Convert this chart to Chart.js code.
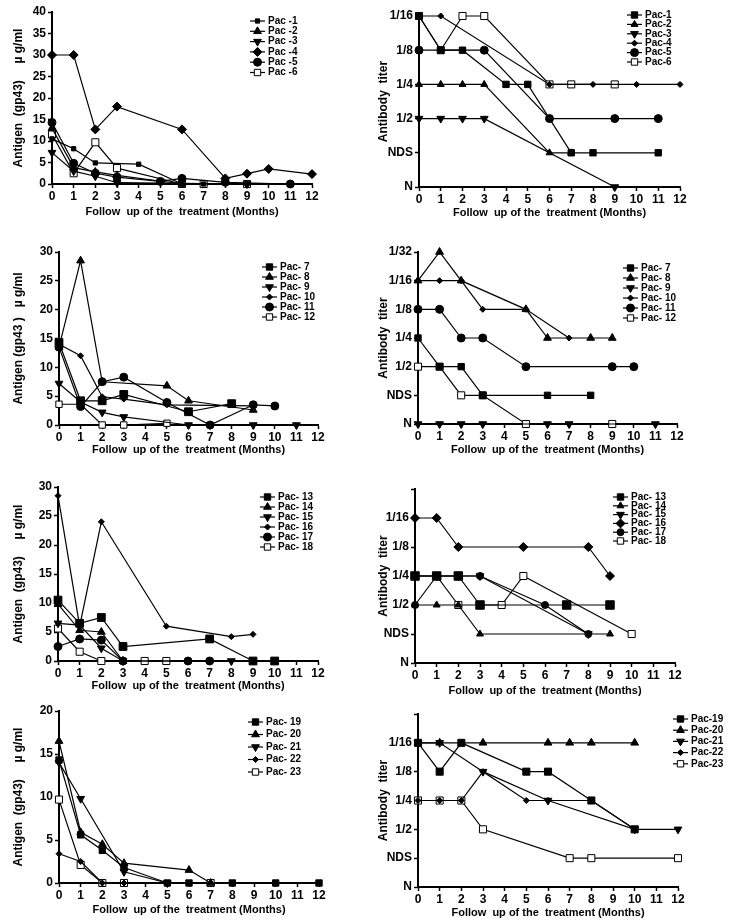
<!DOCTYPE html>
<html>
<head>
<meta charset="utf-8">
<script src="https://cdn.jsdelivr.net/npm/chart.js@4"></script>
<style>
  body { margin: 0; background: #fff; }
  #page { position: relative; width: 730px; height: 921px; overflow: hidden; }
  #page canvas { position: absolute; }
</style>
</head>
<body>
<div id="page"></div>
<script>
const _ = null;
const months = [0, 1, 2, 3, 4, 5, 6, 7, 8, 9, 10, 11, 12];
const titerLabels = ['N', 'NDS', '1/2', '1/4', '1/8', '1/16', '1/32'];

// --- Panel A: antigen, patients 1-6 (value per month, null = not measured)
const labelsA = ['Pac -1', 'Pac -2', 'Pac -3', 'Pac -4', 'Pac -5', 'Pac -6'];
const pac1Ag = [10.5, 8.2, 4.9, _, 4.6, _, 0, 0, _, 0, _, _, _];
const pac2Ag = [13, 3.8, 2.8, 2, _, _, 0, _, _, _, _, _, _];
const pac3Ag = [7.3, 3, 1.8, 0.3, _, _, _, _, _, 0, _, _, _];
const pac4Ag = [30, 30, 12.7, 18, _, _, 12.7, _, 1.3, 2.4, 3.5, _, 2.3];
const pac5Ag = [14.3, 4.8, 2.5, 1.6, _, 0.6, 1.3, _, 0.4, _, _, 0, _];
const pac6Ag = [11.5, 2.5, 9.7, 3.7, _, _, 0, 0, _, 0, _, _, _];

// --- Panel B: antibody titer, patients 1-6
const labelsB = ['Pac-1', 'Pac-2', 'Pac-3', 'Pac-4', 'Pac-5', 'Pac-6'];
const pac1Ti = ['1/16', '1/8', '1/8', _, '1/4', '1/4', _, 'NDS', 'NDS', _, _, 'NDS', _];
const pac2Ti = ['1/4', '1/4', '1/4', '1/4', _, _, 'NDS', 'NDS', _, _, _, _, _];
const pac3Ti = ['1/2', '1/2', '1/2', '1/2', _, _, _, _, _, 'N', _, _, _];
const pac4Ti = ['1/16', '1/16', _, _, _, _, '1/4', _, '1/4', _, '1/4', _, '1/4'];
const pac5Ti = ['1/8', _, _, '1/8', _, _, '1/2', _, _, '1/2', _, '1/2', _];
const pac6Ti = ['1/16', '1/8', '1/16', '1/16', _, _, '1/4', '1/4', _, '1/4', _, _, _];

// --- Panel C: antigen, patients 7-12
const labelsC = ['Pac- 7', 'Pac- 8', 'Pac- 9', 'Pac- 10', 'Pac- 11', 'Pac- 12'];
const pac7Ag = [14.3, 4.2, 4.2, 5.3, _, _, 2.3, _, 3.7, _, _, _, _];
const pac8Ag = [13.5, 28.5, 7.5, _, _, 6.8, 4.2, _, _, 2.6, _, _, _];
const pac9Ag = [7.2, 4, 2.2, 1.4, _, _, 0, 0, _, 0, _, 0, _];
const pac10Ag = [14, 12, 4.9, 4.5, _, 3.5, _, _, _, 3.3, _, _, _];
const pac11Ag = [13.5, 3.2, 7.5, 8.3, _, 3.9, _, 0, _, 3.5, 3.3, _, _];
const pac12Ag = [3.6, 3.6, 0, 0, _, 0.3, _, _, _, _, _, _, _];

// --- Panel D: antibody titer, patients 7-12
const labelsD = ['Pac- 7', 'Pac- 8', 'Pac- 9', 'Pac- 10', 'Pac- 11', 'Pac- 12'];
const pac7Ti = ['1/4', '1/2', '1/2', 'NDS', _, _, 'NDS', _, 'NDS', _, _, _, _];
const pac8Ti = ['1/16', '1/32', '1/16', _, _, '1/8', '1/4', _, '1/4', '1/4', _, _, _];
const pac9Ti = ['N', 'N', 'N', 'N', _, _, 'N', 'N', _, _, _, 'N', _];
const pac10Ti = ['1/16', '1/16', '1/16', '1/8', _, '1/8', _, '1/4', _, _, _, _, _];
const pac11Ti = ['1/8', '1/8', '1/4', '1/4', _, '1/2', _, _, _, '1/2', '1/2', _, _];
const pac12Ti = ['1/2', '1/2', 'NDS', 'NDS', _, 'N', _, _, _, 'N', _, _, _];

// --- Panel E: antigen, patients 13-18
const labelsE = ['Pac- 13', 'Pac- 14', 'Pac- 15', 'Pac- 16', 'Pac- 17', 'Pac- 18'];
const pac13Ag = [10.5, 6.5, 7.5, 2.5, _, _, _, 3.8, _, 0, 0, _, _];
const pac14Ag = [9.8, 5.3, 5, 0, _, _, _, _, _, _, _, _, _];
const pac15Ag = [6.5, 6.2, 2.2, 0, _, _, _, _, 0, _, _, _, _];
const pac16Ag = [28.5, 6, 24, _, _, 6, _, _, 4.2, 4.6, _, _, _];
const pac17Ag = [2.5, 3.8, 3.6, 0, _, _, 0, 0, _, _, _, _, _];
const pac18Ag = [5.6, 1.6, 0, _, 0, 0, _, _, _, _, _, _, _];

// --- Panel F: antibody titer, patients 13-18
const labelsF = ['Pac- 13', 'Pac- 14', 'Pac- 15', 'Pac- 16', 'Pac- 17', 'Pac- 18'];
const pac13Ti = ['1/4', '1/4', '1/4', '1/2', _, _, _, '1/2', _, '1/2', _, _, _];
const pac14Ti = ['1/2', '1/2', '1/2', 'NDS', _, _, _, _, _, 'NDS', _, _, _];
const pac15Ti = ['1/4', '1/4', '1/4', '1/4', _, _, _, _, 'NDS', _, _, _, _];
const pac16Ti = ['1/16', '1/16', '1/8', _, _, '1/8', _, _, '1/8', '1/4', _, _, _];
const pac17Ti = ['1/2', '1/4', '1/4', '1/4', _, _, '1/2', _, 'NDS', _, _, _, _];
const pac18Ti = ['1/4', '1/4', '1/2', _, '1/2', '1/4', _, _, _, _, 'NDS', _, _];

// --- Panel G: antigen, patients 19-23
const labelsG = ['Pac- 19', 'Pac- 20', 'Pac- 21', 'Pac- 22', 'Pac- 23'];
const pac19Ag = [14.3, 5.6, 3.8, 1.8, _, 0, 0, _, 0, _, 0, _, 0];
const pac20Ag = [16.5, 5.9, 4.5, 2.3, _, _, 1.5, 0, _, _, _, _, _];
const pac21Ag = [14, 9.8, _, 1.3, _, 0, _, _, _, _, _, _, _];
const pac22Ag = [3.4, 2.5, 0, 0, _, 0, _, _, _, _, _, _, _];
const pac23Ag = [9.7, 2.1, 0, 0, _, _, _, 0, _, _, _, _, _];

// --- Panel H: antibody titer, patients 19-23
const labelsH = ['Pac-19', 'Pac-20', 'Pac-21', 'Pac-22', 'Pac-23'];
const pac19Ti = ['1/16', '1/8', '1/16', _, _, '1/8', '1/8', _, '1/4', _, '1/2', _, _];
const pac20Ti = ['1/16', '1/16', _, '1/16', _, _, '1/16', '1/16', '1/16', _, '1/16', _, _];
const pac21Ti = ['1/16', '1/16', _, '1/8', _, _, '1/4', _, _, _, '1/2', _, '1/2'];
const pac22Ti = ['1/4', '1/4', '1/4', '1/8', _, '1/4', '1/4', _, '1/4', _, '1/2', _, _];
const pac23Ti = ['1/4', '1/4', '1/4', '1/2', _, _, _, 'NDS', 'NDS', _, _, _, 'NDS'];

// marker shapes
const SQUARE = { pointStyle: 'rect', rotation: 0, fill: '#000' };
const TRI = { pointStyle: 'triangle', rotation: 0, fill: '#000' };
const TRI_DOWN = { pointStyle: 'triangle', rotation: 180, fill: '#000' };
const DIAMOND = { pointStyle: 'rectRot', rotation: 0, fill: '#000' };
const CIRCLE = { pointStyle: 'circle', rotation: 0, fill: '#000' };
const OPEN_SQUARE = { pointStyle: 'rect', rotation: 0, fill: '#fff' };
const sixShapes = [SQUARE, TRI, TRI_DOWN, DIAMOND, CIRCLE, OPEN_SQUARE];
const fiveShapes = [SQUARE, TRI, TRI_DOWN, DIAMOND, OPEN_SQUARE];

Chart.defaults.font.family = '"Liberation Sans", Arial, sans-serif';
Chart.defaults.font.weight = 'bold';
Chart.defaults.color = '#000';

// legend drawn as "-marker-  label", like the original figure
const lineLegend = {
    id: 'lineLegend',
    afterDraw(chart, args, opts) {
        const ctx = chart.ctx;
        ctx.save();
        chart.data.datasets.forEach((ds, i) => {
            const y = opts.y + i * opts.dy;
            ctx.strokeStyle = '#000';
            ctx.lineWidth = 1.2;
            ctx.beginPath();
            ctx.moveTo(opts.x, y);
            ctx.lineTo(opts.x + 15, y);
            ctx.stroke();
            ctx.fillStyle = ds.pointBackgroundColor;
            ctx.lineWidth = 1;
            Chart.helpers.drawPoint(ctx, {
                pointStyle: ds.pointStyle,
                rotation: ds.pointRotation,
                radius: Math.min(ds.pointRadius, 4.5),
                borderWidth: 1
            }, opts.x + 7.5, y);
            ctx.fillStyle = '#000';
            ctx.font = 'bold 10px "Liberation Sans", Arial, sans-serif';
            ctx.textBaseline = 'middle';
            ctx.fillText(ds.label, opts.x + 18, y);
        });
        ctx.restore();
    }
};

function toPoints(values, isTiter) {
    const pts = [];
    months.forEach((m, i) => {
        const v = values[i];
        if (v === null) return;
        pts.push({ x: m, y: isTiter ? titerLabels.indexOf(v) : v });
    });
    return pts;
}

// p: page-coordinate layout of one panel (plot area edges, title line, legend)
function makePanel(p) {
    const x0 = p.col === 0 ? 0 : 365;
    const y0 = Math.max(0, p.top - 32);
    const h = p.titleY + 12 - y0;
    const w = 365;

    const canvas = document.createElement('canvas');
    canvas.style.left = x0 + 'px';
    canvas.style.top = y0 + 'px';
    canvas.style.width = w + 'px';
    canvas.style.height = h + 'px';
    canvas.width = w;
    canvas.height = h;
    document.getElementById('page').appendChild(canvas);

    const shapes = p.series.length === 6 ? sixShapes : fiveShapes;
    const datasets = p.series.map((values, i) => {
        const mk = shapes[i];
        return {
            label: p.labels[i],
            data: toPoints(values, p.titer),
            borderColor: '#000',
            borderWidth: 1.2,
            pointStyle: mk.pointStyle,
            pointRotation: mk.rotation,
            pointRadius: p.radii[i],
            pointBackgroundColor: mk.fill,
            pointBorderColor: '#000',
            pointBorderWidth: 1,
            tension: 0,
            clip: false
        };
    });

    const titleFont = { size: 12, weight: 'bold' };
    const tickFont = { size: 12, weight: 'bold' };
    const yScale = p.titer ? {
        min: 0,
        max: p.yMax,
        ticks: {
            stepSize: 1,
            padding: 2,
            font: tickFont,
            callback: v => (v <= p.yLabelMax ? titerLabels[v] : '')
        },
        title: { display: true, text: 'Antibody  titer', font: titleFont, padding: { top: 11, bottom: 0 } }
    } : {
        min: 0,
        max: p.yMax,
        ticks: { stepSize: 5, padding: 2, font: tickFont },
        title: { display: true, text: p.yTitle, font: titleFont, padding: { top: 11, bottom: 0 } }
    };
    yScale.border = { color: '#000', width: 2 };
    yScale.grid = { drawOnChartArea: false, tickLength: 4, tickColor: '#000', tickWidth: 1.5 };
    yScale.afterFit = s => { s.width = p.left - x0; };

    new Chart(canvas, {
        type: 'line',
        data: { datasets },
        options: {
            responsive: false,
            animation: false,
            layout: {
                padding: { left: 0, bottom: 0, top: p.top - y0, right: x0 + w - p.right }
            },
            scales: {
                x: {
                    type: 'linear',
                    min: 0,
                    max: 12,
                    ticks: { stepSize: 1, autoSkip: false, maxRotation: 0, padding: 1, font: tickFont },
                    border: { color: '#000', width: 2 },
                    grid: { drawOnChartArea: false, tickLength: 4, tickColor: '#000', tickWidth: 1.5 },
                    title: {
                        display: true,
                        text: 'Follow  up of the  treatment (Months)',
                        font: { size: 11, weight: 'bold' },
                        padding: { top: 0, bottom: (y0 + h) - p.titleY - 6.6 }
                    },
                    afterFit: s => { s.height = (y0 + h) - p.bottom; }
                },
                y: yScale
            },
            plugins: {
                legend: { display: false },
                tooltip: { enabled: false },
                lineLegend: { x: p.legendX - x0, y: p.legendY - y0, dy: p.legendDy }
            }
        },
        plugins: [lineLegend]
    });
}

const antigenTitle = 'Antigen  (gp43)     \u00b5 g/ml';

makePanel({ col: 0, left: 52, right: 312, top: 12, bottom: 184, titleY: 212, yMax: 40,
    yTitle: antigenTitle, labels: labelsA, series: [pac1Ag, pac2Ag, pac3Ag, pac4Ag, pac5Ag, pac6Ag],
    radii: [3, 4.5, 4.5, 4.5, 4, 5], legendX: 250, legendY: 21, legendDy: 10.3 });
makePanel({ col: 1, titer: true, left: 419, right: 680, top: 16, bottom: 187, titleY: 213, yMax: 5, yLabelMax: 5,
    labels: labelsB, series: [pac1Ti, pac2Ti, pac3Ti, pac4Ti, pac5Ti, pac6Ti],
    radii: [4.5, 4, 4.5, 3, 4, 5], legendX: 627, legendY: 15, legendDy: 9.4 });

makePanel({ col: 0, left: 59, right: 318, top: 252, bottom: 425, titleY: 450, yMax: 30,
    yTitle: 'Antigen (gp43 )   \u00b5 g/ml', labels: labelsC, series: [pac7Ag, pac8Ag, pac9Ag, pac10Ag, pac11Ag, pac12Ag],
    radii: [5.5, 4.5, 4.5, 3, 4, 4.5], legendX: 262, legendY: 267, legendDy: 10 });
makePanel({ col: 1, titer: true, left: 418, right: 677, top: 252, bottom: 424, titleY: 450, yMax: 6, yLabelMax: 6,
    labels: labelsD, series: [pac7Ti, pac8Ti, pac9Ti, pac10Ti, pac11Ti, pac12Ti],
    radii: [4.5, 4.5, 4.5, 3, 4, 5], legendX: 623, legendY: 268, legendDy: 10 });

makePanel({ col: 0, left: 58, right: 318, top: 487, bottom: 661, titleY: 686, yMax: 30,
    yTitle: antigenTitle, labels: labelsE, series: [pac13Ag, pac14Ag, pac15Ag, pac16Ag, pac17Ag, pac18Ag],
    radii: [5.5, 4.5, 4.5, 3, 4, 5], legendX: 260, legendY: 497, legendDy: 10 });
makePanel({ col: 1, titer: true, left: 415, right: 675, top: 489, bottom: 663, titleY: 691, yMax: 6, yLabelMax: 5,
    labels: labelsF, series: [pac13Ti, pac14Ti, pac15Ti, pac16Ti, pac17Ti, pac18Ti],
    radii: [6, 4, 4.5, 4.5, 3.5, 5], legendX: 613, legendY: 497, legendDy: 8.8 });

makePanel({ col: 0, left: 59, right: 319, top: 711, bottom: 883, titleY: 910, yMax: 20,
    yTitle: antigenTitle, labels: labelsG, series: [pac19Ag, pac20Ag, pac21Ag, pac22Ag, pac23Ag],
    radii: [4.5, 4.5, 4.5, 3, 5], legendX: 248, legendY: 722, legendDy: 12.5 });
makePanel({ col: 1, titer: true, left: 418, right: 678, top: 714, bottom: 887, titleY: 913, yMax: 6, yLabelMax: 5,
    labels: labelsH, series: [pac19Ti, pac20Ti, pac21Ti, pac22Ti, pac23Ti],
    radii: [5, 4.5, 4.5, 3, 5], legendX: 673, legendY: 719, legendDy: 11.2 });
</script>
</body>
</html>
